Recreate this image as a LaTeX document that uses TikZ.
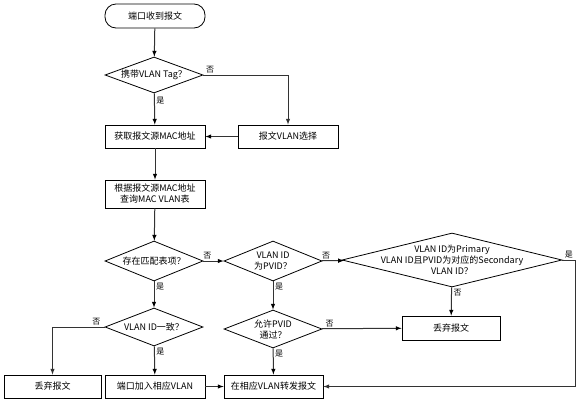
\documentclass[tikz,border=0pt]{standalone}
\usepackage{fontspec}
\setmainfont{Noto Sans CJK SC}
\usepackage{tikz}
\usetikzlibrary{arrows,positioning,shapes.geometric}

\begin{document}
\begin{tikzpicture}[x=1pt, y=-1pt, auto,
    every node/.style={font=\fontsize{9}{11}\selectfont},
    startbox/.style={draw, line width=0.8pt, rounded corners=11pt, minimum width=100pt, minimum height=24pt},
    stepbox/.style={draw, line width=0.8pt, minimum width=100pt, minimum height=23pt, align=center},
    check/.style={draw, diamond, line width=0.8pt, inner sep=0pt, aspect=2.6, minimum width=98pt, minimum height=38pt, align=center},
    lbl/.style={font=\fontsize{8}{9}\selectfont, inner sep=1.5pt},
    flow/.style={-latex, line width=1pt, draw=black!80}]
    \useasboundingbox (0,0) rectangle (581,402);

    \node[startbox] (start) at (155,16) {端口收到报文};
    \node[check, minimum height=36pt] (tag) at (154,75) {携带VLAN Tag？};
    \node[stepbox] (getmac) at (155,136.5) {获取报文源MAC地址};
    \node[stepbox] (vsel) at (288,136.5) {报文VLAN选择};
    \node[stepbox, minimum height=28pt] (query) at (155,194) {根据报文源MAC地址\\查询MAC VLAN表};
    \node[check, minimum height=40pt] (match) at (154,261) {存在匹配表项？};
    \node[check, minimum height=40pt] (pvid) at (273,261) {VLAN ID\\为PVID？};
    \node[check, aspect=4, inner ysep=-8pt, minimum width=220pt, minimum height=54pt] (prim) at (452,260)
        {VLAN ID为Primary\\VLAN ID且PVID为对应的Secondary\\VLAN ID？};
    \node[check] (allow) at (273,329) {允许PVID\\通过？};
    \node[stepbox, minimum width=98pt, minimum height=24pt] (drop1) at (451,328) {丢弃报文};
    \node[check] (same) at (154,327) {VLAN ID一致？};
    \node[stepbox, minimum width=97pt] (drop2) at (52.5,386.5) {丢弃报文};
    \node[stepbox] (join) at (155,386.5) {端口加入相应VLAN};
    \node[stepbox, minimum width=99pt] (fwd) at (273.5,386.5) {在相应VLAN转发报文};

    \path[flow]
        (start) edge (tag)
        (tag) edge node[lbl, pos=0.25, right] {是} (getmac)
        (vsel) edge (getmac)
        (getmac) edge (query)
        (query) edge (match)
        (match) edge node[lbl, pos=0.2, above] {否} (pvid)
        (match) edge node[lbl, pos=0.2, right] {是} (same)
        (pvid) edge node[lbl, pos=0.2, above] {否} (prim)
        (pvid) edge node[lbl, pos=0.2, right] {是} (allow)
        (prim) edge node[lbl, pos=0.2, right] {否} (drop1)
        (allow) edge node[lbl, pos=0.1, above] {否} (drop1)
        (allow) edge node[lbl, pos=0.2, right] {是} (fwd)
        (same) edge node[lbl, pos=0.2, right] {是} (join)
        (join) edge (fwd)
    ;
    \draw[flow] (tag.east) -| node[lbl, pos=0.04, above] {否} (vsel.north);
    \draw[flow] (same.west) -| node[lbl, pos=0.08, above] {否} (drop2.north);
    \draw[flow] (prim.east) -- node[lbl, above] {是} ++(13,0) |- (fwd.east);
\end{tikzpicture}
\end{document}
